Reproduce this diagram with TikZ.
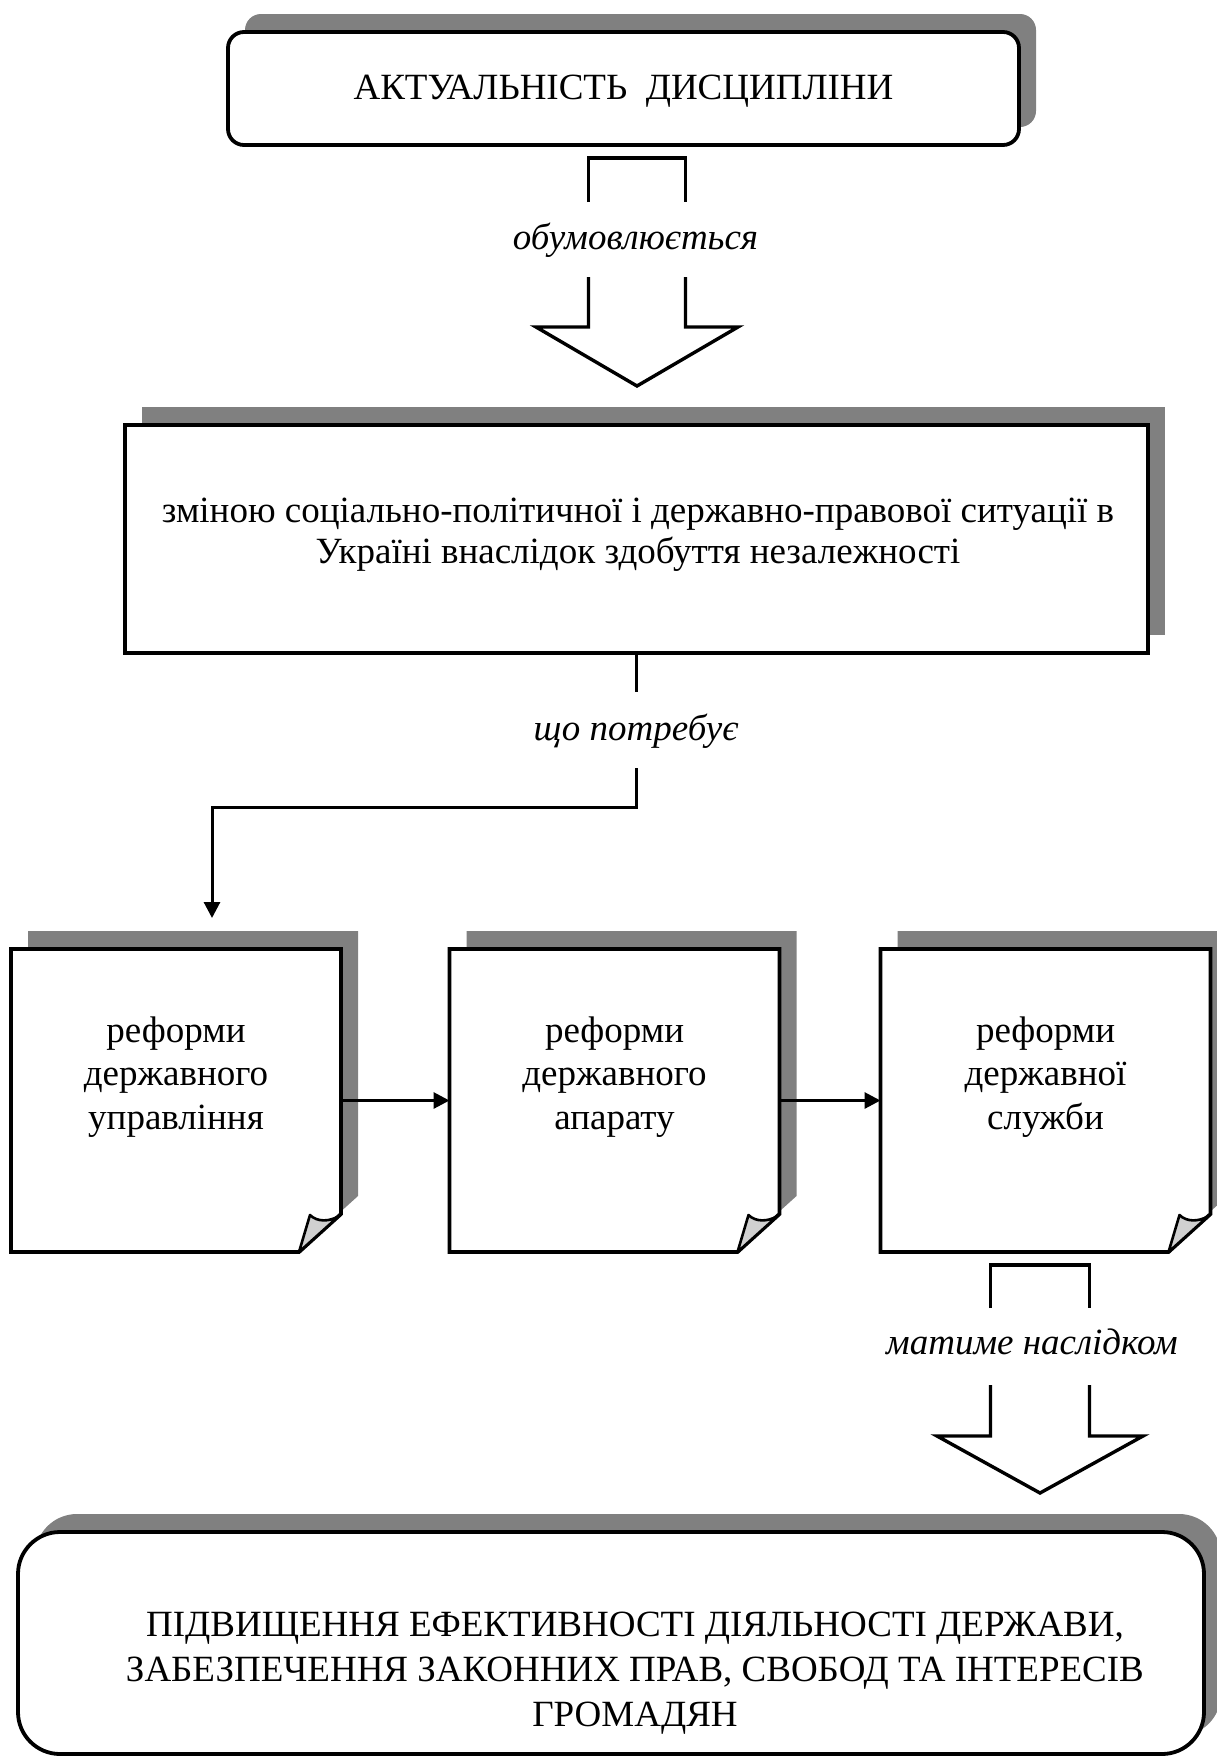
\documentclass[tikz,border=0pt]{standalone}
\usepackage{fontspec}
\setmainfont{Liberation Serif}
\usetikzlibrary{calc,shadows,arrows.meta}
\definecolor{shadowgray}{HTML}{808080}
\definecolor{foldgray}{HTML}{D0D0D0}

% a sheet with a turned-up lower right corner, drawn round an (invisible) node
\newcommand{\notepaper}[1]{%
  \fill[shadowgray]
    ($(#1.north west)+(17,-18)$) -- ($(#1.north east)+(17,-18)$)
    -- ($(#1.south east)+(17,-56)$) -- ($(#1.south east)+(-25,-18)$)
    -- ($(#1.south west)+(17,-18)$) -- cycle;
  \draw[frame]
    (#1.north west) -- (#1.north east) -- ($(#1.south east)+(0,-38)$)
    -- ($(#1.south east)+(-42,0)$) -- (#1.south west) -- cycle;
  \draw[line width=2.6pt, fill=foldgray, line join=round]
    ($(#1.south east)+(-42,0)$) -- ($(#1.south east)+(-31,-37)$)
    .. controls ($(#1.south east)+(-24,-30)$) and ($(#1.south east)+(-12,-30)$)
    .. ($(#1.south east)+(-2,-36)$) -- cycle;
}

\begin{document}
\begin{tikzpicture}[x=1pt,y=-1pt,
  txt/.style={font=\fontsize{37}{40.5}\selectfont, align=center, inner sep=0pt, anchor=base},
  widetxt/.style={txt, font=\fontsize{37}{43.5}\selectfont},
  lbl/.style={font=\fontsize{37}{40.5}\selectfont\itshape, inner sep=0pt, anchor=base},
  frame/.style={draw=black, line width=3.8pt, fill=white, line join=miter},
  boxshadow/.style={drop shadow={shadow xshift=17pt, shadow yshift=18pt, fill=shadowgray, opacity=1}},
  panel/.style={frame, boxshadow, inner sep=0pt, outer sep=0pt},
  sheet/.style={rectangle, inner sep=0pt, outer sep=0pt, minimum width=330pt, minimum height=303pt},
  wire/.style={line width=3pt},
  tip/.style={-{Triangle[length=16pt,width=16pt]}},
  hollow/.style={line width=3.4pt, line join=miter},
]
\useasboundingbox (0,0) rectangle (1217,1756);
\fill[white] (0,0) rectangle (1217,1756);

% --- heading box
\node[panel, rounded corners=16pt, minimum width=791pt, minimum height=113pt] (head) at (623.5,88.5) {};
\node[txt] (headtext) at (623.5,99) {АКТУАЛЬНІСТЬ\ \ ДИСЦИПЛІНИ};

% --- hollow arrow "обумовлюється"
\draw[hollow] (588.5,202) -- (588.5,158) -- (685.5,158) -- (685.5,202);
\draw[hollow] (588.5,277) -- (588.5,327) -- (536,327) -- (637,386) -- (738,327) -- (685.5,327) -- (685.5,277);
\node[lbl] (cause) at (635.5,249) {обумовлюється};

% --- situation box (text anchored on the baseline of its last line)
\node[panel, minimum width=1023pt, minimum height=228pt] (situation) at (636.5,539) {};
\node[txt] (situationtext) at (638,563) {зміною соціально-політичної і державно-правової ситуації в\\Україні внаслідок здобуття незалежності};

% --- "що потребує"
\node[lbl] (need) at (636,740) {що потребує};
\coordinate (needtop) at (636.5,692);
\coordinate (needbot) at (636.5,768);
\coordinate (drop) at (212,918);

% --- three reform sheets
\node[sheet] (ra) at (176,1100.5) {};
\node[sheet] (rb) at (614.5,1100.5) {};
\node[sheet] (rc) at (1045.5,1100.5) {};
\notepaper{ra}
\notepaper{rb}
\notepaper{rc}
\node[widetxt] (ratext) at (176,1129) {реформи\\державного\\управління};
\node[widetxt] (rbtext) at (614.5,1129) {реформи\\державного\\апарату};
\node[widetxt] (rctext) at (1045.5,1129) {реформи\\державної\\служби};

% --- hollow arrow "матиме наслідком"
\draw[hollow] (990.5,1308) -- (990.5,1265) -- (1089.5,1265) -- (1089.5,1308);
\draw[hollow] (990.5,1385) -- (990.5,1436) -- (937,1436) -- (1040,1493) -- (1143,1436) -- (1089.5,1436) -- (1089.5,1385);
\node[lbl] (effect) at (1032,1354) {матиме наслідком};

% --- result box
\node[panel, rounded corners=42pt, minimum width=1186pt, minimum height=222pt] (result) at (611,1643) {};
\node[txt, font=\fontsize{37}{45}\selectfont] (resulttext) at (635,1726) {ПІДВИЩЕННЯ ЕФЕКТИВНОСТІ ДІЯЛЬНОСТІ ДЕРЖАВИ,\\ЗАБЕЗПЕЧЕННЯ ЗАКОННИХ ПРАВ, СВОБОД ТА ІНТЕРЕСІВ\\ГРОМАДЯН};

% --- connectors
\draw[wire] (situation.south) -- (needtop);
\draw[wire, tip] (needbot) -- (636.5,807) -| (drop);
\draw[wire, tip] (ra.east) -- (rb.west);
\draw[wire, tip] (rb.east) -- (rc.west);
\end{tikzpicture}
\end{document}
